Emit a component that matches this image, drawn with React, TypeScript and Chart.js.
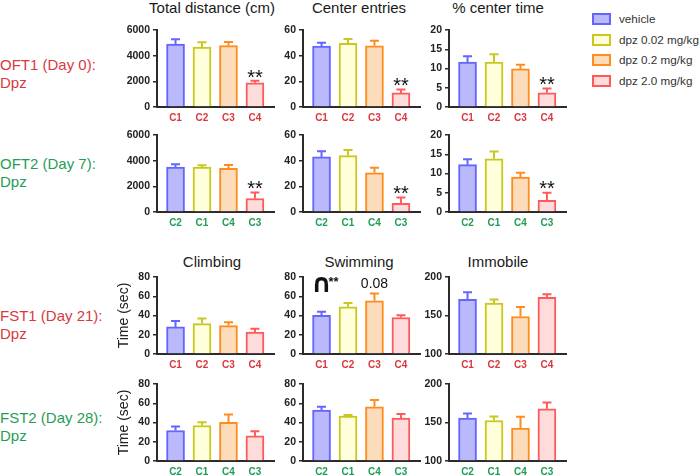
import React, { useEffect, useRef } from 'react';
import { Chart, registerables } from 'chart.js';

Chart.register(...registerables);
Chart.defaults.font.family = "'Liberation Sans', Arial, sans-serif";

// ---------- data ----------
const groups = ['vehicle', 'dpz 0.02 mg/kg', 'dpz 0.2 mg/kg', 'dpz 2.0 mg/kg'];
const labelsA = ['C1', 'C2', 'C3', 'C4'];
const labelsB = ['C2', 'C1', 'C4', 'C3'];

const panelTitlesTop = ['Total distance (cm)', 'Center entries', '% center time'];
const panelTitlesBottom = ['Climbing', 'Swimming', 'Immobile'];
const rowLabels = [
  ['OFT1 (Day 0):', 'Dpz'],
  ['OFT2 (Day 7):', 'Dpz'],
  ['FST1 (Day 21):', 'Dpz'],
  ['FST2 (Day 28):', 'Dpz'],
];

const distTicks = [0, 2000, 4000, 6000];
const entriesTicks = [0, 20, 40, 60];
const pctTicks = [0, 5, 10, 15, 20];
const timeTicks = [0, 20, 40, 60, 80];
const immTicks = [100, 150, 200];

const distOft1 = [4900, 4670, 4780, 1880];
const distOft1Err = [370, 370, 290, 160];
const distOft2 = [3500, 3500, 3400, 1050];
const distOft2Err = [230, 150, 260, 470];

const entriesOft1 = [47.5, 49.6, 47.7, 11];
const entriesOft1Err = [2.6, 3.4, 4, 2.6];
const entriesOft2 = [42.9, 43.9, 30.5, 6.8];
const entriesOft2Err = [4.5, 4.5, 4, 4.5];

const pctOft1 = [11.7, 11.7, 9.9, 3.7];
const pctOft1Err = [1.5, 2, 1.1, 1.1];
const pctOft2 = [12.3, 13.8, 9.1, 3.0];
const pctOft2Err = [1.4, 1.9, 1.1, 2.0];

const climbFst1 = [28.1, 31.6, 29.5, 22.8];
const climbFst1Err = [6.3, 5.2, 3.5, 3.5];
const climbFst2 = [31.7, 36.9, 40.3, 26.1];
const climbFst2Err = [4.1, 3.4, 8, 4.9];

const swimFst1 = [40.3, 49, 55.2, 37.9];
const swimFst1Err = [3.5, 4.1, 7.6, 2.4];
const swimFst2 = [52.9, 46.7, 56.4, 44.6];
const swimFst2Err = [3.5, 1.1, 6.9, 4.2];

const immFst1 = [171, 166, 148.7, 173.7];
const immFst1Err = [9.3, 4.8, 12.3, 3.9];
const immFst2 = [155.7, 152.6, 142.6, 167.8];
const immFst2Err = [6, 5.2, 14.8, 8.2];

// ---------- styles ----------
const fills = ['#b9b9fb', '#ffffdc', '#fddcbc', '#ffdcdc'];
const borders = ['#6464ff', '#c8c81e', '#ff8c1e', '#ff5a5a'];
const red = '#d9383f';
const green = '#1f9e55';
const dark = '#2b2b2b';

const colX = [157, 303, 449];
const rowTop = [30, 135, 277, 384];
const plotW = 117;
const plotH = 77;
const axisW = 41;
const padTop = 10;
const padRight = 6;
const xAxisH = 22;

type Note = { text: string; index: number; value: number; font: string; align?: CanvasTextAlign; dx?: number };
type PanelDef = {
  row: number; col: number; values: number[]; errs: number[]; ticks: number[];
  labels: string[]; labelColor: string; stars?: number[]; notes?: Note[]; yTitle?: string;
};

const panels: PanelDef[] = [
  { row: 0, col: 0, values: distOft1, errs: distOft1Err, ticks: distTicks, labels: labelsA, labelColor: red, stars: [3] },
  { row: 0, col: 1, values: entriesOft1, errs: entriesOft1Err, ticks: entriesTicks, labels: labelsA, labelColor: red, stars: [3] },
  { row: 0, col: 2, values: pctOft1, errs: pctOft1Err, ticks: pctTicks, labels: labelsA, labelColor: red, stars: [3] },
  { row: 1, col: 0, values: distOft2, errs: distOft2Err, ticks: distTicks, labels: labelsB, labelColor: green, stars: [3] },
  { row: 1, col: 1, values: entriesOft2, errs: entriesOft2Err, ticks: entriesTicks, labels: labelsB, labelColor: green, stars: [3] },
  { row: 1, col: 2, values: pctOft2, errs: pctOft2Err, ticks: pctTicks, labels: labelsB, labelColor: green, stars: [3] },
  { row: 2, col: 0, values: climbFst1, errs: climbFst1Err, ticks: timeTicks, labels: labelsA, labelColor: red, yTitle: 'Time (sec)' },
  {
    row: 2, col: 1, values: swimFst1, errs: swimFst1Err, ticks: timeTicks, labels: labelsA, labelColor: red,
    notes: [
      { text: '∩', index: 0, value: 64.4, font: "bold 26px 'DejaVu Sans', sans-serif", align: 'center' },
      { text: '**', index: 0, value: 70.6, font: "bold 13px 'Liberation Sans', Arial, sans-serif", align: 'left', dx: 7 },
      { text: '0.08', index: 2, value: 68.6, font: "14px 'Liberation Sans', Arial, sans-serif", align: 'center' },
    ],
  },
  { row: 2, col: 2, values: immFst1, errs: immFst1Err, ticks: immTicks, labels: labelsA, labelColor: red },
  { row: 3, col: 0, values: climbFst2, errs: climbFst2Err, ticks: timeTicks, labels: labelsB, labelColor: green, yTitle: 'Time (sec)' },
  { row: 3, col: 1, values: swimFst2, errs: swimFst2Err, ticks: timeTicks, labels: labelsB, labelColor: green },
  { row: 3, col: 2, values: immFst2, errs: immFst2Err, ticks: immTicks, labels: labelsB, labelColor: green },
];

const errorBarPlugin = {
  id: 'errbars',
  afterDatasetsDraw(chart: any, _args: any, opts: any) {
    const { ctx } = chart;
    const ys = chart.scales.y;
    const xs = chart.scales.x;
    const meta = chart.getDatasetMeta(0);
    const ds = chart.data.datasets[0];
    const errs: number[] = opts.errs || [];
    ctx.save();
    meta.data.forEach((bar: any, i: number) => {
      const v = ds.data[i].y;
      const top = ys.getPixelForValue(v + errs[i]);
      ctx.strokeStyle = borders[i];
      ctx.lineWidth = 2;
      ctx.beginPath();
      ctx.moveTo(bar.x, bar.y);
      ctx.lineTo(bar.x, top);
      ctx.moveTo(bar.x - 4.5, top);
      ctx.lineTo(bar.x + 4.5, top);
      ctx.stroke();
      if ((opts.stars || []).includes(i)) {
        ctx.fillStyle = '#111';
        ctx.font = "20px 'Liberation Sans', Arial, sans-serif";
        ctx.textAlign = 'center';
        ctx.textBaseline = 'alphabetic';
        ctx.fillText('**', bar.x, top - 9 + 0.585 * 20);
      }
    });
    (opts.notes || []).forEach((n: Note) => {
      ctx.fillStyle = '#111';
      ctx.font = n.font;
      ctx.textAlign = n.align || 'center';
      ctx.textBaseline = 'alphabetic';
      ctx.fillText(n.text, xs.getPixelForValue(n.index) + (n.dx || 0), ys.getPixelForValue(n.value));
    });
    ctx.restore();
  },
};

function Panel({ p }: { p: PanelDef }) {
  const ref = useRef<HTMLCanvasElement>(null);
  const W = axisW + plotW + padRight;
  const H = padTop + plotH + xAxisH;
  const left = colX[p.col] - axisW;
  const top = rowTop[p.row] - padTop;

  useEffect(() => {
    const lo = p.ticks[0];
    const hi = p.ticks[p.ticks.length - 1];
    const chart = new Chart(ref.current as HTMLCanvasElement, {
      type: 'bar',
      data: {
        datasets: [
          {
            data: p.values.map((v, i) => ({ x: i, y: v })),
            backgroundColor: fills,
            borderColor: borders,
            borderWidth: 2,
            barThickness: 18,
            base: lo,
            borderSkipped: 'start',
          } as any,
        ],
      },
      options: {
        responsive: false,
        animation: false,
        devicePixelRatio: 1,
        layout: { padding: { top: padTop, right: padRight, left: 0, bottom: 0 } },
        plugins: {
          legend: { display: false },
          tooltip: { enabled: false },
          errbars: { errs: p.errs, stars: p.stars, notes: p.notes },
        } as any,
        scales: {
          x: {
            type: 'linear',
            min: -0.7,
            max: 3.72,
            offset: false,
            grid: { display: false, drawTicks: false, offset: false },
            border: { display: true, color: dark, width: 2 },
            afterBuildTicks: (s: any) => { s.ticks = [0, 1, 2, 3].map((v) => ({ value: v })); },
            afterFit: (s: any) => { s.height = xAxisH; },
            ticks: {
              padding: 5,
              color: p.labelColor,
              font: { size: 10, weight: 'bold' },
              autoSkip: false,
              maxRotation: 0,
              callback: (v: any) => p.labels[Math.round(Number(v))] ?? '',
            },
          } as any,
          y: {
            min: lo,
            max: hi,
            afterBuildTicks: (s: any) => { s.ticks = p.ticks.map((v) => ({ value: v })); },
            afterFit: (s: any) => { s.width = axisW; },
            grid: { display: true, drawOnChartArea: false, drawTicks: true, tickLength: 4, color: dark, lineWidth: 1.5 },
            border: { display: true, color: dark, width: 2 },
            ticks: {
              padding: 3,
              color: '#222',
              font: { size: 10.5, weight: 'bold' },
              callback: (v: any) => String(v),
            },
            title: p.yTitle
              ? { display: true, text: p.yTitle, padding: 0, color: '#222', font: { size: 14 } }
              : { display: false },
          } as any,
        },
      },
      plugins: [errorBarPlugin],
    });
    return () => chart.destroy();
  }, []);

  return (
    <canvas
      ref={ref}
      width={W}
      height={H}
      style={{ position: 'absolute', left, top, width: W, height: H }}
    />
  );
}

const font = "'Liberation Sans', Arial, sans-serif";
const titleCenters = [212, 359, 498];
const titleTops = [0, 254];
const rowLabelTops = [56, 155, 307, 409];
const rowLabelColors = [red, green, red, green];
const legendY = [19, 39.5, 60, 80.5];

export default function App() {
  return (
    <div style={{ position: 'absolute', left: 0, top: 0, width: 699, height: 475, background: '#fff', overflow: 'hidden', fontFamily: font }}>
      {[panelTitlesTop, panelTitlesBottom].map((titles, r) =>
        titles.map((t, c) => (
          <div
            key={`t${r}${c}`}
            style={{ position: 'absolute', left: titleCenters[c] - 100, width: 200, top: titleTops[r], textAlign: 'center', fontSize: 15, lineHeight: '15px', color: '#1a1a1a', whiteSpace: 'nowrap' }}
          >
            {t}
          </div>
        ))
      )}
      {rowLabels.map((lines, r) => (
        <div
          key={`r${r}`}
          style={{ position: 'absolute', left: 0, top: rowLabelTops[r], fontSize: 15, lineHeight: '18px', color: rowLabelColors[r], whiteSpace: 'nowrap' }}
        >
          {lines[0]}
          <br />
          {lines[1]}
        </div>
      ))}
      {groups.map((g, i) => (
        <React.Fragment key={`l${i}`}>
          <div
            style={{ position: 'absolute', left: 592, top: legendY[i] - 6, width: 15, height: 8, border: `2px solid ${borders[i]}`, background: fills[i] }}
          />
          <div
            style={{ position: 'absolute', left: 619, top: legendY[i] - 8, fontSize: 11.7, lineHeight: '15px', color: '#333', whiteSpace: 'nowrap' }}
          >
            {g}
          </div>
        </React.Fragment>
      ))}
      {panels.map((p, i) => (
        <Panel key={i} p={p} />
      ))}
    </div>
  );
}
